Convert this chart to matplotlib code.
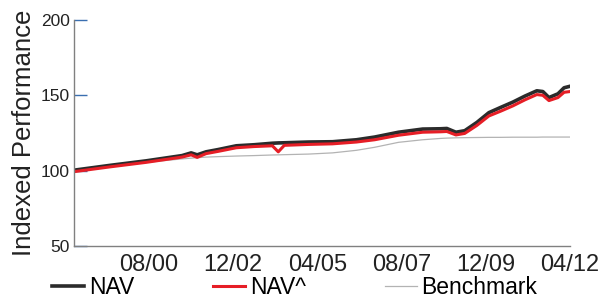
import matplotlib
matplotlib.use("Agg")
import matplotlib.pyplot as plt
import matplotlib.dates as mdates
import pandas as pd

plt.rcParams['font.family'] = ['Liberation Sans', 'DejaVu Sans']

# Monthly readings taken off the chart
dates = ['1998-07', '1999-07', '2000-07', '2001-07', '2001-10', '2001-12', '2002-03',
         '2002-07', '2003-01', '2003-07', '2004-01', '2004-03', '2004-05', '2005-01',
         '2005-09', '2006-05', '2006-11', '2007-07', '2008-03', '2008-09', '2008-11',
         '2009-02', '2009-05', '2009-09', '2010-01', '2010-05', '2010-09', '2011-01',
         '2011-05', '2011-07', '2011-09', '2011-12', '2012-02', '2012-04']
nav = [100.3, 103.5, 106.5, 110.0, 111.8, 110.5, 112.5,
       114.0, 116.5, 117.2, 118.2, 118.4, 118.5, 119.0,
       119.2, 120.5, 122.3, 125.5, 127.6, 127.8, 128.0,
       125.5, 126.5, 132.0, 138.5, 142.0, 145.5, 149.5,
       153.0, 152.5, 148.5, 151.0, 155.0, 156.0]
nav_hat = [99.3, 102.5, 105.5, 109.0, 110.5, 108.8, 111.3,
           112.8, 115.2, 116.0, 116.5, 112.5, 116.8, 117.4,
           117.8, 119.0, 120.5, 123.5, 125.5, 125.8, 126.0,
           123.7, 124.7, 130.0, 136.3, 139.5, 143.0, 147.0,
           150.5, 150.0, 146.5, 148.5, 152.0, 152.5]
bench = [100.0, 102.8, 105.5, 107.8, 108.3, 108.6, 109.0,
         109.3, 109.7, 110.0, 110.4, 110.5, 110.6, 111.0,
         111.8, 113.5, 115.5, 118.8, 120.5, 121.4, 121.6,
         121.8, 121.9, 122.0, 122.1, 122.1, 122.2, 122.2,
         122.2, 122.3, 122.3, 122.3, 122.3, 122.3]

tick_dates = ['2000-08', '2002-12', '2005-04', '2007-08', '2009-12', '2012-04']
yticks = [50, 100, 150, 200]

x = pd.to_datetime(dates)

fig = plt.figure(figsize=(6, 2.98), dpi=100)
ax = fig.add_axes([0.123, 0.1745, 0.827, 0.7585])

ax.plot(x, bench, color='#b3b3b3', lw=0.9, label='Benchmark')
ax.plot(x, nav, color='#2b2b2b', lw=2.6, label='NAV')
ax.plot(x, nav_hat, color='#e61e26', lw=2.2, label='NAV^')

ax.set_xlim(x[0], x[-1])
ax.set_ylim(50, 200)
ax.set_yticks(yticks)
ax.set_xticks(pd.to_datetime(tick_dates))
ax.xaxis.set_major_formatter(mdates.DateFormatter('%m/%y'))

ax.tick_params(axis='y', direction='in', length=9, width=1, color='#3a6fb0',
               labelsize=12.5, pad=3, labelcolor='#222222')
ax.tick_params(axis='x', length=0, labelsize=17, pad=6, labelcolor='#222222')

for s in ['top', 'right']:
    ax.spines[s].set_visible(False)
for s in ['left', 'bottom']:
    ax.spines[s].set_color('#808080')
    ax.spines[s].set_linewidth(1)

ax.set_ylabel('Indexed Performance', fontsize=18.5, color='#222222', labelpad=3)

h, l = ax.get_legend_handles_labels()
order = [1, 2, 0]
ax.legend([h[i] for i in order], [l[i] for i in order], ncol=3, frameon=False,
          loc='upper left', bbox_to_anchor=(0.087, 0.075), bbox_transform=fig.transFigure,
          fontsize=16.5, handlelength=1.4, handletextpad=0.2, columnspacing=3.45,
          borderpad=0, borderaxespad=0)

fig.savefig('out.png', dpi=100)
